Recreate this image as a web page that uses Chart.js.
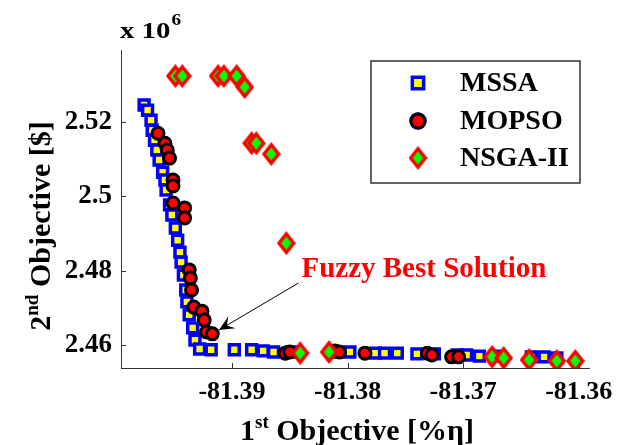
<!DOCTYPE html>
<html>
<head>
<meta charset="utf-8">
<script src="https://cdn.jsdelivr.net/npm/chart.js@4"></script>
<style>
  body { margin: 0; background: #fff; }
  #wrap { width: 622px; height: 445px; }
</style>
</head>
<body>
<div id="wrap"><canvas id="paretoChart" width="622" height="445"></canvas></div>
<script>
// Pareto fronts: x = 1st objective [%eta], y = 2nd objective [$] (x 10^6)
const mssaX = [-81.3976, -81.3973, -81.3970, -81.3969, -81.3967, -81.3965, -81.3963, -81.3960, -81.3958, -81.3957,
  -81.3954, -81.3952, -81.3949, -81.3947, -81.3945, -81.3944, -81.3942, -81.3940, -81.3939, -81.3937,
  -81.3934, -81.3932, -81.3928, -81.3918, -81.3898, -81.3883, -81.3873, -81.3864, -81.3849, -81.3811,
  -81.3798, -81.3776, -81.3768, -81.3757, -81.3740, -81.3725, -81.3705, -81.3697, -81.3686, -81.3671,
  -81.3641, -81.3630, -81.3619];
const mssaY = [2.5246, 2.5232, 2.5205, 2.5178, 2.5151, 2.5125, 2.5098, 2.5065, 2.5044, 2.5017,
  2.4977, 2.4950, 2.4915, 2.4882, 2.4850, 2.4823, 2.4788, 2.4748, 2.4716, 2.4681,
  2.4646, 2.4613, 2.4589, 2.4587, 2.4587, 2.4587, 2.4584, 2.4581, 2.4581, 2.4581,
  2.4581, 2.4578, 2.4578, 2.4578, 2.4576, 2.4576, 2.4573, 2.4573, 2.4570, 2.4570,
  2.4568, 2.4568, 2.4565];

const mopsoX = [-81.3964, -81.3958, -81.3956, -81.3954, -81.3951, -81.3951, -81.3951, -81.3941, -81.3941, -81.3937,
  -81.3936, -81.3935, -81.3933, -81.3926, -81.3924, -81.3922, -81.3917, -81.3854, -81.3850, -81.3811,
  -81.3807, -81.3785, -81.3731, -81.3727, -81.3710, -81.3704];
const mopsoY = [2.5170, 2.5143, 2.5125, 2.5103, 2.5044, 2.5028, 2.4982, 2.4969, 2.4942, 2.4802,
  2.4780, 2.4748, 2.4702, 2.4691, 2.4667, 2.4635, 2.4630, 2.4578, 2.4581, 2.4584,
  2.4581, 2.4578, 2.4578, 2.4573, 2.4568, 2.4568];

const nsgaX = [-81.3949, -81.3943, -81.3912, -81.3907, -81.3896, -81.3889, -81.3883, -81.3879, -81.3866, -81.3853,
  -81.3841, -81.3816, -81.3675, -81.3665, -81.3643, -81.3619, -81.3603];
const nsgaY = [2.5324, 2.5324, 2.5324, 2.5324, 2.5324, 2.5294, 2.5143, 2.5143, 2.5114, 2.4874,
  2.4578, 2.4581, 2.4568, 2.4565, 2.4560, 2.4557, 2.4557];

const xTicks = [-81.39, -81.38, -81.37, -81.36];
const xTickLabels = ["-81.39", "-81.38", "-81.37", "-81.36"];
const yTicks = [2.46, 2.48, 2.5, 2.52];
const yTickLabels = ["2.46", "2.48", "2.5", "2.52"];

const seriesNames = ["MSSA", "MOPSO", "NSGA-II"];

const serif = "'Liberation Serif', 'DejaVu Serif', serif";

function toPoints(xs, ys) {
  return xs.map((x, i) => ({ x: x, y: ys[i] }));
}

// diamond marker, matlab style (a bit taller than wide)
function makeDiamond(w, h) {
  const c = document.createElement("canvas");
  c.width = w;
  c.height = h;
  const g = c.getContext("2d");
  g.fillStyle = "#ff0000";
  g.beginPath();
  g.moveTo(w / 2, 0);
  g.lineTo(w, h / 2);
  g.lineTo(w / 2, h);
  g.lineTo(0, h / 2);
  g.closePath();
  g.fill();
  g.fillStyle = "#00ff00";
  const iw = w * 0.27, ih = h * 0.27;
  g.beginPath();
  g.moveTo(w / 2, h / 2 - ih);
  g.lineTo(w / 2 + iw, h / 2);
  g.lineTo(w / 2, h / 2 + ih);
  g.lineTo(w / 2 - iw, h / 2);
  g.closePath();
  g.fill();
  return c;
}
const diamond = makeDiamond(19, 24);

// draws inward ticks, axis titles, legend and the arrow note
const extrasPlugin = {
  id: "extras",
  afterDraw(chart) {
    const ctx = chart.ctx;
    const xs = chart.scales.x, ys = chart.scales.y;
    const area = chart.chartArea;
    ctx.save();

    // inward tick marks
    ctx.strokeStyle = "#333";
    ctx.lineWidth = 1;
    ctx.beginPath();
    xTicks.forEach(v => {
      const px = Math.round(xs.getPixelForValue(v)) + 0.5;
      ctx.moveTo(px, area.bottom);
      ctx.lineTo(px, area.bottom - 5);
    });
    yTicks.forEach(v => {
      const py = Math.round(ys.getPixelForValue(v)) + 0.5;
      ctx.moveTo(area.left, py);
      ctx.lineTo(area.left + 5, py);
    });
    ctx.stroke();

    ctx.fillStyle = "#000";
    ctx.textBaseline = "alphabetic";

    // x axis title with superscript
    const big = "bold 30px " + serif, small = "bold 19px " + serif;
    ctx.font = big;
    const w1 = ctx.measureText("1").width;
    const w3 = ctx.measureText(" Objective [%η]").width;
    ctx.font = small;
    const w2 = ctx.measureText("st").width;
    let x0 = 357 - (w1 + w2 + w3) / 2;
    const by = 440;
    ctx.textAlign = "left";
    ctx.font = big;
    ctx.fillText("1", x0, by);
    ctx.font = small;
    ctx.fillText("st", x0 + w1, by - 12);
    ctx.font = big;
    ctx.fillText(" Objective [%η]", x0 + w1 + w2, by);

    // y axis title, rotated
    ctx.save();
    ctx.translate(50, 226);
    ctx.rotate(-Math.PI / 2);
    ctx.font = big;
    const v1 = ctx.measureText("2").width;
    const v3 = ctx.measureText(" Objective [$]").width;
    ctx.font = small;
    const v2 = ctx.measureText("nd").width;
    let s0 = -(v1 + v2 + v3) / 2;
    ctx.font = big;
    ctx.fillText("2", s0, 0);
    ctx.font = small;
    ctx.fillText("nd", s0 + v1, -12);
    ctx.font = big;
    ctx.fillText(" Objective [$]", s0 + v1 + v2, 0);
    ctx.restore();

    // exponent label
    ctx.save();
    ctx.translate(120, 38);
    ctx.scale(1.2, 1);
    ctx.font = "bold 24px " + serif;
    ctx.fillText("x 10", 0, 0);
    const ew = ctx.measureText("x 10").width;
    ctx.font = "bold 16px " + serif;
    ctx.fillText("6", ew + 1, -13);
    ctx.restore();

    // legend box
    ctx.strokeStyle = "#333";
    ctx.lineWidth = 1.5;
    ctx.strokeRect(371, 61, 209, 122);
    const rows = [83, 121, 158];
    rows.forEach((ry, i) => {
      const ds = chart.data.datasets[i];
      Chart.helpers.drawPoint(ctx, {
        pointStyle: ds.pointStyle,
        radius: i === 0 ? 8 : 7,
        borderWidth: ds.borderWidth,
        rotation: 0
      }, 418, ry);
      if (ds.pointStyle !== diamond) {
        ctx.fillStyle = ds.backgroundColor;
        ctx.strokeStyle = ds.borderColor;
        ctx.lineWidth = ds.borderWidth;
        ctx.fill();
        ctx.stroke();
      }
      ctx.fillStyle = "#000";
      ctx.font = "bold 28px " + serif;
      ctx.textAlign = "left";
      ctx.textBaseline = "middle";
      ctx.fillText(seriesNames[i], 460, ry + 1);
    });

    // arrow note pointing at fuzzy best solution
    const ax0 = xs.getPixelForValue(-81.38425), ay0 = ys.getPixelForValue(2.47668);
    const ax1 = xs.getPixelForValue(-81.39112), ay1 = ys.getPixelForValue(2.46404);
    ctx.strokeStyle = "#000";
    ctx.lineWidth = 1;
    ctx.beginPath();
    ctx.moveTo(ax0, ay0);
    ctx.lineTo(ax1, ay1);
    ctx.stroke();
    const ang = Math.atan2(ay1 - ay0, ax1 - ax0);
    const L = 15, Wd = 7;
    const bx = ax1 - L * Math.cos(ang), byy = ay1 - L * Math.sin(ang);
    const nx = ax1 - L * 0.6 * Math.cos(ang), ny = ay1 - L * 0.6 * Math.sin(ang);
    ctx.fillStyle = "#000";
    ctx.beginPath();
    ctx.moveTo(ax1, ay1);
    ctx.lineTo(bx - Wd * Math.sin(ang), byy + Wd * Math.cos(ang));
    ctx.lineTo(nx, ny);
    ctx.lineTo(bx + Wd * Math.sin(ang), byy - Wd * Math.cos(ang));
    ctx.closePath();
    ctx.fill();

    ctx.fillStyle = "#ff0000";
    ctx.font = "bold 29px " + serif;
    ctx.textAlign = "center";
    ctx.textBaseline = "alphabetic";
    ctx.fillText("Fuzzy Best Solution", xs.getPixelForValue(-81.3734), ys.getPixelForValue(2.4783));

    ctx.restore();
  }
};

const chart = new Chart(document.getElementById("paretoChart"), {
  type: "scatter",
  data: {
    datasets: [
      {
        label: seriesNames[0],
        data: toPoints(mssaX, mssaY),
        pointStyle: "rect",
        radius: 7,
        backgroundColor: "#ffff00",
        borderColor: "#0000ff",
        borderWidth: 3.5,
        order: 3
      },
      {
        label: seriesNames[1],
        data: toPoints(mopsoX, mopsoY),
        pointStyle: "circle",
        radius: 6,
        backgroundColor: "#ff0000",
        borderColor: "#000000",
        borderWidth: 3,
        order: 2
      },
      {
        label: seriesNames[2],
        data: toPoints(nsgaX, nsgaY),
        pointStyle: diamond,
        radius: 9,
        backgroundColor: "#ff0000",
        borderColor: "#ff0000",
        borderWidth: 0,
        order: 1
      }
    ]
  },
  options: {
    responsive: false,
    animation: false,
    events: [],
    layout: { padding: { left: 0, top: 50, right: 29, bottom: 0 } },
    plugins: {
      legend: { display: false },
      tooltip: { enabled: false }
    },
    scales: {
      x: {
        type: "linear",
        min: -81.3996,
        max: -81.3591,
        afterBuildTicks: s => { s.ticks = xTicks.map(v => ({ value: v })); },
        afterFit: s => { s.height = 77; },
        grid: { display: false, drawTicks: false },
        border: { display: true, color: "#333", width: 1 },
        ticks: {
          padding: 9,
          color: "#000",
          font: { family: serif, size: 26, weight: "bold" },
          callback: (v, i) => xTickLabels[i]
        }
      },
      y: {
        type: "linear",
        min: 2.4538,
        max: 2.5394,
        afterBuildTicks: s => { s.ticks = yTicks.map(v => ({ value: v })); },
        afterFit: s => { s.width = 121; },
        grid: { display: false, drawTicks: false },
        border: { display: true, color: "#333", width: 1 },
        ticks: {
          padding: 9,
          color: "#000",
          font: { family: serif, size: 27, weight: "bold" },
          callback: (v, i) => yTickLabels[i]
        }
      }
    }
  },
  plugins: [extrasPlugin]
});
</script>
</body>
</html>
